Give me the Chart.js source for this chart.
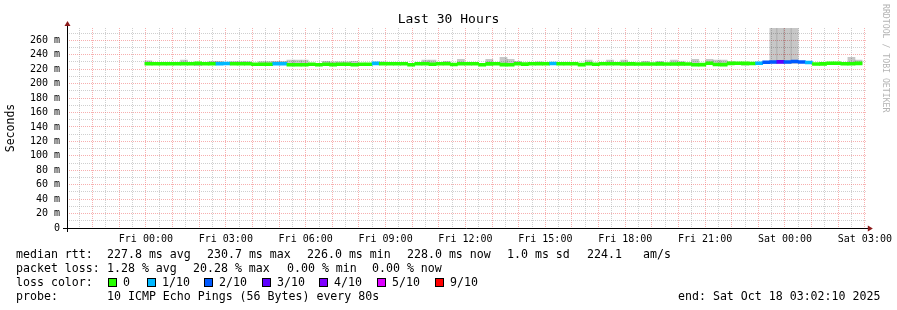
<!DOCTYPE html>
<html>
<head>
<meta charset="utf-8">
<script src="https://cdn.jsdelivr.net/npm/chart.js@4.4.1/dist/chart.umd.min.js"></script>
<style>
  body { margin: 0; background: #fff; }
  #wrap { position: relative; width: 897px; height: 310px; font-family: 'DejaVu Sans Mono', monospace; font-size: 11.6px; color: #000; }
  #chart { position: absolute; left: 0; top: 0; }
  .t { position: absolute; white-space: pre; line-height: 14px; }
  .box { position: absolute; width: 7px; height: 7px; border: 1px solid #000; }
  #title { position: absolute; left: 0; width: 897px; top: 11px; text-align: center; font-size: 13px; line-height: 16px; }
  #mark { position: absolute; left: 881px; top: 4px; writing-mode: vertical-rl; font-size: 8.2px; color: #b4b4b4; white-space: pre; }
</style>
</head>
<body>
<div id="wrap">
  <canvas id="chart" width="897" height="310"></canvas>
  <div id="title">Last 30 Hours</div>
  <div id="mark">RRDTOOL / TOBI OETIKER</div>

  <div class="t" style="left:16px;top:247px">median rtt:</div>
  <div class="t" style="left:107px;top:247px">227.8 ms avg</div>
  <div class="t" style="left:207px;top:247px">230.7 ms max</div>
  <div class="t" style="left:307px;top:247px">226.0 ms min</div>
  <div class="t" style="left:407px;top:247px">228.0 ms now</div>
  <div class="t" style="left:507px;top:247px">1.0 ms sd</div>
  <div class="t" style="left:587px;top:247px">224.1</div>
  <div class="t" style="left:643px;top:247px">am/s</div>

  <div class="t" style="left:16px;top:261px">packet loss:</div>
  <div class="t" style="left:107px;top:261px">1.28 % avg</div>
  <div class="t" style="left:193px;top:261px">20.28 % max</div>
  <div class="t" style="left:287px;top:261px">0.00 % min</div>
  <div class="t" style="left:372px;top:261px">0.00 % now</div>

  <div class="t" style="left:16px;top:275px">loss color:</div>
  <div id="lossLegend"></div>

  <div class="t" style="left:16px;top:289px">probe:</div>
  <div class="t" style="left:107px;top:289px">10 ICMP Echo Pings (56 Bytes) every 80s</div>
  <div class="t" style="left:678px;top:289px">end: Sat Oct 18 03:02:10 2025</div>
</div>

<script>
// hours relative to Fri 00:00
const endHour = 27 + 2 / 60 + 10 / 3600;
const startHour = endHour - 30;
const firstBin = -0.0375;
const binHours = 16 / 60;

const xTickLabels = ['Fri 00:00', 'Fri 03:00', 'Fri 06:00', 'Fri 09:00', 'Fri 12:00',
	'Fri 15:00', 'Fri 18:00', 'Fri 21:00', 'Sat 00:00', 'Sat 03:00'];
const yTickLabels = ['0', '20 m', '40 m', '60 m', '80 m', '100 m', '120 m', '140 m',
	'160 m', '180 m', '200 m', '220 m', '240 m', '260 m'];

const lossLabels = ['0', '1/10', '2/10', '3/10', '4/10', '5/10', '9/10'];
const lossColors = ['#26ff00', '#00b8ff', '#0059ff', '#5e00ff', '#7e00ff', '#dd00ff', '#ff0000'];

// median rtt (ms) per 16 min bin
const medianRtt = [
	227.6, 227.5, 227.6, 227.5, 227.6, 227.4, 227.5, 228.0, 227.6, 227.5,
	227.6, 227.7, 227.5, 227.6, 227.4, 226.8, 226.9, 226.8, 227.6, 227.5,
	226.1, 226.0, 226.2, 226.7, 226.2, 226.8, 226.3, 226.8, 226.9, 226.2,
	226.8, 226.7, 228.0, 227.5, 227.6, 227.5, 227.4, 226.2, 227.5, 227.6,
	226.8, 227.5, 227.6, 226.5, 227.4, 227.5, 227.6, 226.0, 227.3, 227.5,
	226.3, 226.2, 227.4, 227.0, 227.5, 227.6, 227.4, 227.8, 227.5, 227.6,
	227.4, 226.3, 227.5, 226.8, 227.5, 227.6, 227.4, 227.2, 227.3, 227.2,
	227.1, 227.2, 227.3, 227.2, 227.2, 227.3, 227.2, 226.1, 226.3, 228.3,
	226.4, 226.3, 228.0, 228.1, 228.0, 227.9, 228.3, 229.6, 229.9, 230.1,
	229.9, 230.7, 229.8, 229.2, 227.2, 227.3, 228.3, 228.2, 227.5, 227.4,
	228.0
];
// lost pings out of 10 per bin
const lossCount = [
	0, 0, 0, 0, 0, 0, 0, 0, 0, 0,
	1, 1, 0, 0, 0, 0, 0, 0, 1, 1,
	0, 0, 0, 0, 0, 0, 0, 0, 0, 0,
	0, 0, 1, 0, 0, 0, 0, 0, 0, 0,
	0, 0, 0, 0, 0, 0, 0, 0, 0, 0,
	0, 0, 0, 0, 0, 0, 0, 1, 0, 0,
	0, 0, 0, 0, 0, 0, 0, 0, 0, 0,
	0, 0, 0, 0, 0, 0, 0, 0, 0, 0,
	0, 0, 0, 0, 0, 0, 1, 2, 2, 3,
	2, 2, 2, 1, 0, 0, 0, 0, 0, 0,
	0
];
// smoke (ping spread) where it shows outside the median line
const smokeBins = [0, 5, 7, 9, 10, 12, 13, 14, 16, 17, 18, 19, 20, 21, 22, 25, 26, 27, 28, 29,
	33, 39, 40, 42, 44, 48, 50, 51, 52, 55, 62, 65, 67, 70, 72, 74, 75, 77, 79, 80,
	81, 82, 84, 88, 89, 90, 91, 99, 100];
const smokeHigh = [231.5, 232.4, 229.0, 231.0, 231.0, 230.5, 230.5, 230.5, 230.5, 230.5,
	231.0, 231.0, 232.4, 232.4, 232.4, 231.0, 230.3, 230.3, 230.3, 231.0,
	230.3, 232.4, 232.4, 231.0, 233.7, 233.7, 236.5, 233.7, 231.0, 230.3,
	232.4, 232.4, 232.4, 231.0, 231.0, 232.4, 230.5, 233.7, 233.7, 232.4,
	232.4, 230.3, 229.0, 300.0, 300.0, 300.0, 300.0, 236.5, 232.4];
const smokeLow = [226.5, 226.5, 225.0, 226.5, 226.5, 226.5, 226.5, 226.5, 226.0, 226.0,
	226.5, 226.5, 225.5, 225.5, 225.5, 226.0, 225.5, 226.0, 226.0, 225.5,
	226.5, 226.5, 226.0, 226.5, 226.5, 226.5, 225.5, 225.5, 226.5, 226.5,
	226.5, 226.5, 226.5, 226.0, 226.0, 226.0, 226.0, 225.5, 227.0, 225.5,
	225.5, 227.0, 225.6, 228.0, 228.0, 228.0, 228.0, 226.5, 226.5];

const binCenter = (i) => firstBin + (i + 0.5) * binHours;

const lossLegend = document.getElementById('lossLegend');
const legendX = [108, 147, 204, 262, 319, 377, 435];
lossLabels.forEach((label, i) => {
	const box = document.createElement('div');
	box.className = 'box';
	box.style.left = legendX[i] + 'px';
	box.style.top = '278px';
	box.style.background = lossColors[i];
	lossLegend.appendChild(box);
	const txt = document.createElement('div');
	txt.className = 't';
	txt.style.left = legendX[i] + 15 + 'px';
	txt.style.top = '275px';
	txt.textContent = label;
	lossLegend.appendChild(txt);
});

const font = 'DejaVu Sans Mono';
const majorGrid = 'rgba(240, 110, 110, 0.55)';
const minorGrid = 'rgba(160, 160, 160, 0.5)';

const axesPlugin = {
	id: 'rrdAxes',
	afterDraw(chart) {
		const { ctx, chartArea: a } = chart;
		const x0 = Math.round(a.left) + 0.5;
		const y0 = Math.round(a.bottom) + 0.5;
		ctx.save();
		ctx.strokeStyle = '#000';
		ctx.lineWidth = 1;
		ctx.beginPath();
		ctx.moveTo(a.left - 4, y0);
		ctx.lineTo(a.right + 4, y0);
		ctx.moveTo(x0, a.bottom + 4);
		ctx.lineTo(x0, a.top - 4);
		ctx.stroke();
		ctx.fillStyle = '#8b1a1a';
		ctx.beginPath();
		ctx.moveTo(a.right + 2, y0 - 3);
		ctx.lineTo(a.right + 7, y0);
		ctx.lineTo(a.right + 2, y0 + 3);
		ctx.fill();
		ctx.beginPath();
		ctx.moveTo(x0 - 3, a.top - 2);
		ctx.lineTo(x0, a.top - 7);
		ctx.lineTo(x0 + 3, a.top - 2);
		ctx.fill();
		ctx.restore();
	},
};

new Chart(document.getElementById('chart'), {
	type: 'bar',
	data: {
		datasets: [
			{
				label: 'median',
				order: 0,
				data: medianRtt.map((m, i) => ({ x: binCenter(i), y: [m - 2, m + 2] })),
				backgroundColor: lossCount.map((l) => lossColors[l]),
				grouped: false,
				barPercentage: 1,
				categoryPercentage: 1,
			},
			{
				label: 'smoke',
				order: 1,
				data: smokeBins.map((b, i) => ({ x: binCenter(b), y: [smokeLow[i], smokeHigh[i]] })),
				backgroundColor: 'rgba(0, 0, 0, 0.22)',
				grouped: false,
				barPercentage: 1,
				categoryPercentage: 1,
			},
		],
	},
	options: {
		responsive: false,
		animation: false,
		devicePixelRatio: 1,
		layout: { padding: { left: 0, right: 30, top: 28, bottom: 0 } },
		plugins: {
			legend: { display: false },
			tooltip: { enabled: false },
			title: { display: false },
		},
		scales: {
			x: {
				type: 'linear',
				min: startHour,
				max: endHour,
				offset: false,
				afterBuildTicks: (scale) => {
					const ticks = [];
					for (let h = -2.5; h <= 27; h += 0.5) ticks.push({ value: h });
					scale.ticks = ticks;
				},
				afterFit: (scale) => { scale.height = 82; },
				grid: {
					offset: false,
					drawTicks: false,
					color: (c) => (c.tick && Number.isInteger(c.tick.value) ? majorGrid : minorGrid),
				},
				border: { display: false, dash: [1, 1] },
				ticks: {
					autoSkip: false,
					maxRotation: 0,
					padding: 5,
					color: '#000',
					font: { family: font, size: 10 },
					callback: (v) => (v >= 0 && v % 3 === 0 ? xTickLabels[v / 3] : ''),
				},
			},
			y: {
				min: 0,
				max: 277,
				afterBuildTicks: (scale) => {
					const ticks = [];
					for (let v = 0; v <= 270; v += 10) ticks.push({ value: v });
					scale.ticks = ticks;
				},
				afterFit: (scale) => { scale.width = 67; },
				grid: {
					drawTicks: false,
					color: (c) => (c.tick && c.tick.value % 20 === 0 ? majorGrid : minorGrid),
				},
				border: { display: false, dash: [1, 1] },
				title: {
					display: true,
					text: 'Seconds',
					color: '#000',
					font: { family: font, size: 11.5 },
					padding: { top: 4, bottom: 0 },
				},
				ticks: {
					autoSkip: false,
					padding: 7,
					color: '#000',
					font: { family: font, size: 10 },
					callback: (v) => (v % 20 === 0 ? yTickLabels[v / 20] : ''),
				},
			},
		},
	},
	plugins: [axesPlugin],
});
</script>
</body>
</html>
